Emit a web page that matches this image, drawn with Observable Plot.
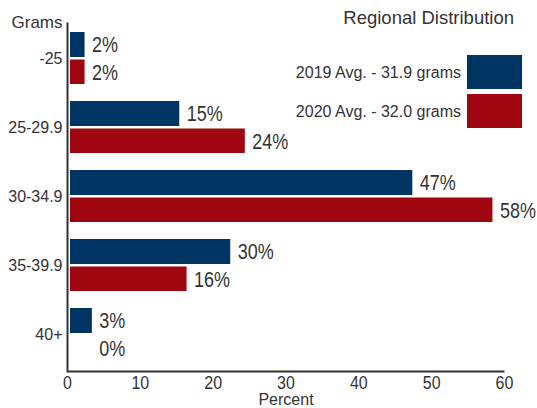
<!DOCTYPE html>
<html>
<head>
<meta charset="utf-8">
<script src="https://cdn.jsdelivr.net/npm/d3@7"></script>
<script src="https://cdn.jsdelivr.net/npm/@observablehq/plot@0.6"></script>
<style>
  html, body { margin: 0; padding: 0; background: #fff; }
  #chart svg { font-family: "Liberation Sans", Arial, sans-serif; overflow: visible; }
</style>
</head>
<body>
<div id="chart"></div>
<script>
// ---- data ----
const categories = ["-25", "25-29.9", "30-34.9", "35-39.9", "40+"];
const values2019 = [2, 15, 47, 22, 3];
const values2020 = [2, 24, 58, 16, 0];
const labels2019 = ["2%", "15%", "47%", "30%", "3%"];
const labels2020 = ["2%", "24%", "58%", "16%", "0%"];
const xTicks = [0, 10, 20, 30, 40, 50, 60];
const seriesNames = ["2019 Avg. - 31.9 grams", "2020 Avg. - 32.0 grams"];
const colors = ["#003462", "#a0060f"];
const title = "Regional Distribution";

const rows2019 = categories.map((c, i) => ({cat: c, value: values2019[i], label: labels2019[i], other: values2020[i]}));
const rows2020 = categories.map((c, i) => ({cat: c, value: values2020[i], label: labels2020[i], other: values2019[i]}));
const labelX = d => d.value > 0 ? d.value : d.other;

const textColor = "#333";

const chart = Plot.plot({
  width: 537,
  height: 408,
  marginLeft: 70,
  marginRight: 30,
  marginTop: 20,
  marginBottom: 37,
  style: {fontFamily: "Liberation Sans, Arial, sans-serif", color: textColor, background: "#fff"},
  x: {domain: [0, 60], ticks: xTicks, label: null},
  y: {domain: categories, range: [20, 373], paddingInner: 0.243, paddingOuter: 0.143, label: null},
  marks: [
    Plot.barX(rows2019, {x: "value", y: "cat", fill: colors[0], insetBottom: 27}),
    Plot.barX(rows2020, {x: "value", y: "cat", fill: colors[1], insetTop: 27.5}),
    Plot.frame({stroke: textColor, strokeWidth: 2, fill: "none", insetLeft: -3, insetRight: 3, insetTop: 2, strokeDasharray: "0 786 786"}),
    Plot.text(rows2019, {x: labelX, y: "cat", text: "label", textAnchor: "start", dx: 7, dy: -13.5, fontSize: 18, fill: textColor, ariaDescription: "value-labels"}),
    Plot.text(rows2020, {x: labelX, y: "cat", text: "label", textAnchor: "start", dx: 7, dy: 14, fontSize: 18, fill: textColor, ariaDescription: "value-labels"}),
    Plot.axisX({ticks: xTicks, tickSize: 0, tickPadding: 4, fontSize: 16, dx: -3, label: null, fill: textColor, ariaDescription: "x-ticks"}),
    Plot.axisY({tickSize: 0, tickPadding: 8, fontSize: 16, label: null, fill: textColor}),
    Plot.text(["Grams"], {frameAnchor: "top-left", textAnchor: "end", lineAnchor: "middle", dx: -8, dy: 2, fontSize: 17, fill: textColor}),
    Plot.text(["Percent"], {frameAnchor: "bottom", lineAnchor: "middle", dx: -3, dy: 28, fontSize: 16, fill: textColor})
  ]
});

document.getElementById("chart").appendChild(chart);

const svg = d3.select(chart);

// vertical stretch of some texts, as in the reference
function stretch(sel, k) {
  sel.each(function() {
    const t = d3.select(this);
    let tr = t.attr("transform") || "";
    const ax = t.attr("x"), ay = t.attr("y");
    if ((ax != null && !isNaN(+ax)) || (ay != null && !isNaN(+ay))) {
      tr += ` translate(${+ax || 0},${+ay || 0})`;
      t.attr("x", null).attr("y", null);
    }
    t.attr("transform", tr + ` scale(1,${k})`);
  });
}
stretch(svg.selectAll('g[aria-description="value-labels"] text'), 1.22);
stretch(svg.selectAll('g[aria-description="x-ticks"] text'), 1.18);

// title and legend drawn inside the SVG
svg.append("text")
  .attr("x", 514).attr("y", 24)
  .attr("text-anchor", "end")
  .attr("font-size", 18.5)
  .attr("fill", textColor)
  .text(title);

const leg = svg.append("g");
seriesNames.forEach((name, i) => {
  const y0 = 55 + i * 39;
  leg.append("rect")
    .attr("x", 467).attr("y", y0)
    .attr("width", 55).attr("height", 34)
    .attr("fill", colors[i]);
  leg.append("text")
    .attr("x", 461).attr("y", y0 + 17)
    .attr("dy", "0.35em")
    .attr("text-anchor", "end")
    .attr("font-size", 16)
    .attr("fill", textColor)
    .text(name);
});
</script>
</body>
</html>
